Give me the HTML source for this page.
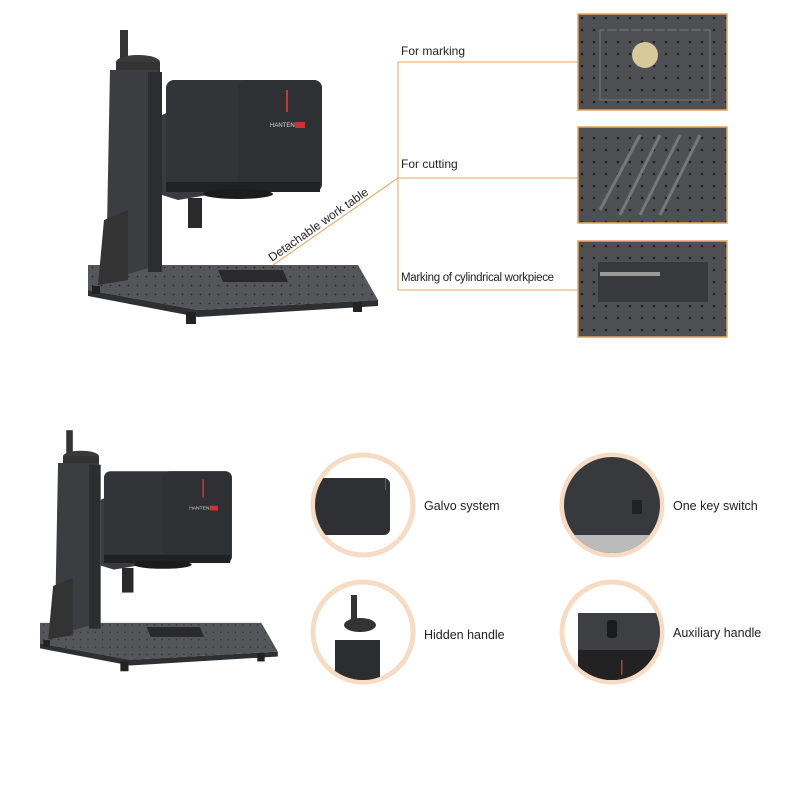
<!DOCTYPE html><html><head><style>body{margin:0;background:#fff}svg{display:block}text{font-family:"Liberation Sans",sans-serif;fill:#222}</style></head><body>
<svg width="800" height="800" viewBox="0 0 800 800">
<defs>
<pattern id="holes" width="9" height="9" patternUnits="userSpaceOnUse"><rect width="9" height="9" fill="#55565a"/><circle cx="4.5" cy="4.5" r="0.9" fill="#2a2a2c"/></pattern>
<pattern id="holes2" width="12" height="12" patternUnits="userSpaceOnUse"><rect width="12" height="12" fill="#4f5053"/><circle cx="6" cy="6" r="1.3" fill="#222"/></pattern>
<clipPath id="c1"><circle cx="363" cy="505" r="48"/></clipPath>
<clipPath id="c2"><circle cx="612" cy="505" r="48"/></clipPath>
<clipPath id="c3"><circle cx="363" cy="632" r="48"/></clipPath>
<clipPath id="c4"><circle cx="612" cy="632" r="48"/></clipPath>
<g id="mach">
<polygon points="0,245 270,245 290,280 110,290 0,270" fill="url(#holes)"/>
<polygon points="0,270 110,290 290,280 290,286 110,297 0,276" fill="#2e2f31"/>
<rect x="98" y="292" width="10" height="12" fill="#222"/>
<rect x="265" y="282" width="9" height="10" fill="#222"/>
<rect x="4" y="266" width="8" height="8" fill="#222"/>
<polygon points="130,250 195,250 200,262 135,262" fill="#2a2a2c"/>
<rect x="32" y="10" width="8" height="30" fill="#333"/>
<ellipse cx="50" cy="42" rx="22" ry="7" fill="#3a3a3c"/>
<rect x="28" y="42" width="44" height="10" fill="#333"/>
<polygon points="22,50 70,50 72,245 18,260" fill="#3c3d40"/>
<polygon points="16,200 40,190 40,260 10,265" fill="#333"/>
<rect x="60" y="52" width="14" height="200" fill="#2c2d2f"/>
<polygon points="74,95 140,65 150,170 90,180 74,175" fill="#3a3b3e"/>
<rect x="78" y="60" width="156" height="112" rx="8" fill="#333437"/>
<rect x="150" y="60" width="84" height="112" rx="8" fill="#2f3033"/>
<rect x="78" y="162" width="154" height="10" fill="#202123"/>
<ellipse cx="150" cy="174" rx="35" ry="5" fill="#1c1c1e"/>
<rect x="100" y="178" width="14" height="30" fill="#2a2a2c"/>
<rect x="198" y="70" width="2" height="22" fill="#c33"/>
<text x="182" y="107" font-size="6" style="fill:#ddd">HANTEN</text>
<rect x="207" y="102" width="10" height="6" fill="#c33"/>
</g>
</defs>
<use href="#mach" transform="translate(88,20)"/>
<use href="#mach" transform="translate(40,422) scale(0.82)"/>
<g stroke="#e7a45a" stroke-width="1" fill="none">
<line x1="273" y1="265" x2="398" y2="178"/>
<polyline points="578,62 398,62 398,290 578,290"/>
<line x1="398" y1="178" x2="578" y2="178"/>
</g>
<text transform="translate(272,262) rotate(-35)" font-size="12">Detachable work table</text>
<text x="401" y="55" font-size="12">For marking</text>
<text x="401" y="168" font-size="12">For cutting</text>
<text x="401" y="281" font-size="11.5" letter-spacing="-0.3">Marking of cylindrical workpiece</text>
<g stroke="#e7a45a" stroke-width="1.5">
<rect x="578" y="14" width="149" height="96" fill="url(#holes2)"/>
<rect x="578" y="127" width="149" height="96" fill="url(#holes2)"/>
<rect x="578" y="241" width="149" height="96" fill="url(#holes2)"/>
</g>
<rect x="600" y="30" width="110" height="70" fill="none" stroke="#777" stroke-width="1"/>
<circle cx="645" cy="55" r="13" fill="#d8c99a"/>
<g stroke="#777" stroke-width="3"><line x1="600" y1="210" x2="640" y2="135"/><line x1="620" y1="215" x2="660" y2="135"/><line x1="640" y1="215" x2="680" y2="135"/><line x1="660" y1="215" x2="700" y2="135"/></g>
<rect x="598" y="262" width="110" height="40" fill="#38393c"/>
<rect x="600" y="272" width="60" height="4" fill="#999"/>
<g fill="none" stroke="#f6dcc4" stroke-width="5">
<circle cx="363" cy="505" r="50"/><circle cx="612" cy="505" r="50"/><circle cx="363" cy="632" r="50"/><circle cx="612" cy="632" r="50"/>
</g>
<g clip-path="url(#c1)"><rect x="310" y="478" width="80" height="57" rx="6" fill="#2f3033"/><rect x="385" y="478" width="1" height="12" fill="#c33"/></g>
<g clip-path="url(#c2)"><rect x="560" y="455" width="110" height="105" fill="#38393c"/><rect x="560" y="535" width="100" height="30" fill="#bbb"/><rect x="632" y="500" width="10" height="14" fill="#222"/></g>
<g clip-path="url(#c3)"><rect x="351" y="595" width="6" height="25" fill="#333"/><ellipse cx="360" cy="625" rx="16" ry="7" fill="#333"/><rect x="335" y="640" width="45" height="45" fill="#2c2d2f"/></g>
<g clip-path="url(#c4)"><rect x="578" y="613" width="90" height="80" fill="#3e3f42"/><rect x="578" y="650" width="90" height="40" fill="#222"/><rect x="607" y="620" width="10" height="18" rx="3" fill="#1b1b1b"/><rect x="621" y="660" width="1.5" height="15" fill="#c33"/></g>
<text x="424" y="510" font-size="12.5">Galvo system</text>
<text x="673" y="510" font-size="12.5">One key switch</text>
<text x="424" y="639" font-size="12.5">Hidden handle</text>
<text x="673" y="637" font-size="12.5">Auxiliary handle</text>
</svg></body></html>
